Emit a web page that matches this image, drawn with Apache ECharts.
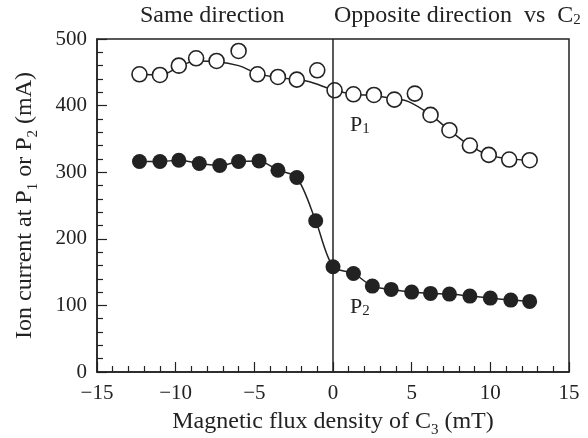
<!DOCTYPE html>
<html>
<head>
<meta charset="utf-8">
<script src="https://cdn.jsdelivr.net/npm/echarts@6/dist/echarts.min.js"></script>
<style>
  html, body { margin: 0; padding: 0; background: #fff; }
  #chart { width: 588px; height: 438px; }
</style>
</head>
<body>
<div id="chart"></div>
<script>
// P1 (open circles)
const p1X = [-12.3, -11.0, -9.8, -8.7, -7.4, -6.0, -4.8, -3.5, -2.3, -1.0, 0.1, 1.3, 2.6, 3.9, 5.2, 6.2, 7.4, 8.7, 9.9, 11.2, 12.5];
const p1Y = [447, 446, 460, 471, 467, 482, 447, 443, 439, 453, 423, 417, 416, 409, 418, 386, 363, 340, 326, 319, 318];
// smooth curve drawn through P1
const p1FitX = [-12.3, -11.0, -9.8, -8.7, -7.4, -6.0, -4.8, -3.5, -1.7, 0.1, 1.3, 2.6, 3.9, 4.8, 6.2, 7.4, 8.7, 9.9, 11.2, 12.5];
const p1FitY = [447, 446, 458, 467, 466, 460, 448, 442, 437, 423, 417, 415, 410, 406, 386, 363, 340, 326, 320, 318];
// P2 (filled circles)
const p2X = [-12.3, -11.0, -9.8, -8.5, -7.2, -6.0, -4.7, -3.5, -2.3, -1.1, 0.0, 1.3, 2.5, 3.7, 5.0, 6.2, 7.4, 8.7, 10.0, 11.3, 12.5];
const p2Y = [316, 316, 318, 313, 310, 316, 317, 303, 292, 227, 158, 148, 129, 124, 120, 118, 117, 114, 111, 108, 106];

const xTicks = [-15, -10, -5, 0, 5, 10, 15];
const yTicks = [0, 100, 200, 300, 400, 500];

const serif = 'Liberation Serif';
const ink = '#222';
const sub = { fontFamily: serif, fontSize: 15, color: ink, verticalAlign: 'bottom', padding: [0, 0, -4, 0] };
const subG = { font: '15px "Liberation Serif"', fill: ink, padding: [0, 0, -8, 0] };

const chart = echarts.init(document.getElementById('chart'));

chart.setOption({
  animation: false,
  grid: {
    left: 97, right: 19, top: 39, bottom: 66,
    outerBoundsMode: 'none',
    containLabel: false,
    show: true, borderColor: ink, borderWidth: 1.5, backgroundColor: 'transparent'
  },
  xAxis: {
    type: 'value',
    min: xTicks[0], max: xTicks[xTicks.length - 1], interval: 5,
    name: 'Magnetic flux density of C{s|3} (mT)',
    nameLocation: 'middle', nameGap: 38,
    nameTextStyle: { fontFamily: serif, fontSize: 24, color: ink, rich: { s: sub } },
    axisLine: { show: true, onZero: false, lineStyle: { color: ink, width: 1.5 } },
    axisTick: { inside: true, length: 10, lineStyle: { color: ink, width: 1.2 } },
    minorTick: { show: true, splitNumber: 5, length: 6, lineStyle: { color: ink, width: 1.2 } },
    splitLine: { show: false },
    axisLabel: {
      fontFamily: serif, fontSize: 21, color: ink, margin: 11,
      formatter: v => (v < 0 ? '\u2212' + Math.abs(v) : String(v))
    }
  },
  yAxis: {
    type: 'value',
    min: yTicks[0], max: yTicks[yTicks.length - 1], interval: 100,
    name: 'Ion current at P{s|1} or P{s|2} (mA)',
    nameLocation: 'middle', nameGap: 60,
    nameTextStyle: { fontFamily: serif, fontSize: 24, color: ink, rich: { s: sub } },
    axisLine: { show: true, onZero: false, lineStyle: { color: ink, width: 1.5 } },
    axisTick: { inside: true, length: 10, lineStyle: { color: ink, width: 1.2 } },
    minorTick: { show: true, splitNumber: 5, length: 6, lineStyle: { color: ink, width: 1.2 } },
    splitLine: { show: false },
    axisLabel: { fontFamily: serif, fontSize: 21, color: ink, margin: 10 }
  },
  graphic: [
    {
      type: 'text', left: 140, top: 4,
      style: { text: 'Same direction', font: '24px "Liberation Serif"', fill: ink }
    },
    {
      type: 'text', left: 334, top: 4,
      style: {
        text: 'Opposite direction  vs  C{s|2}',
        font: '24px "Liberation Serif"', fill: ink,
        rich: { s: subG }
      }
    },
    {
      type: 'text', left: 350, top: 114,
      style: {
        text: 'P{s|1}', font: '22px "Liberation Serif"', fill: ink,
        rich: { s: subG }
      }
    },
    {
      type: 'text', left: 350, top: 296,
      style: {
        text: 'P{s|2}', font: '22px "Liberation Serif"', fill: ink,
        rich: { s: subG }
      }
    }
  ],
  series: [
    {
      name: 'P1 fit',
      type: 'line',
      smooth: 0.4,
      showSymbol: false,
      data: p1FitX.map((x, i) => [x, p1FitY[i]]),
      lineStyle: { color: ink, width: 1.5 },
      markLine: {
        silent: true, symbol: 'none', label: { show: false },
        lineStyle: { color: ink, width: 1.5, type: 'solid' },
        data: [{ xAxis: 0 }]
      },
      z: 2
    },
    {
      name: 'P1',
      type: 'scatter',
      symbol: 'circle',
      symbolSize: 15,
      data: p1X.map((x, i) => [x, p1Y[i]]),
      itemStyle: { color: '#fff', borderColor: ink, borderWidth: 1.6, opacity: 1 },
      z: 3
    },
    {
      name: 'P2',
      type: 'line',
      smooth: 0.3,
      symbol: 'circle',
      symbolSize: 15,
      data: p2X.map((x, i) => [x, p2Y[i]]),
      lineStyle: { color: ink, width: 1.5 },
      itemStyle: { color: ink, borderColor: ink, borderWidth: 0 },
      z: 3
    }
  ]
});
</script>
</body>
</html>
